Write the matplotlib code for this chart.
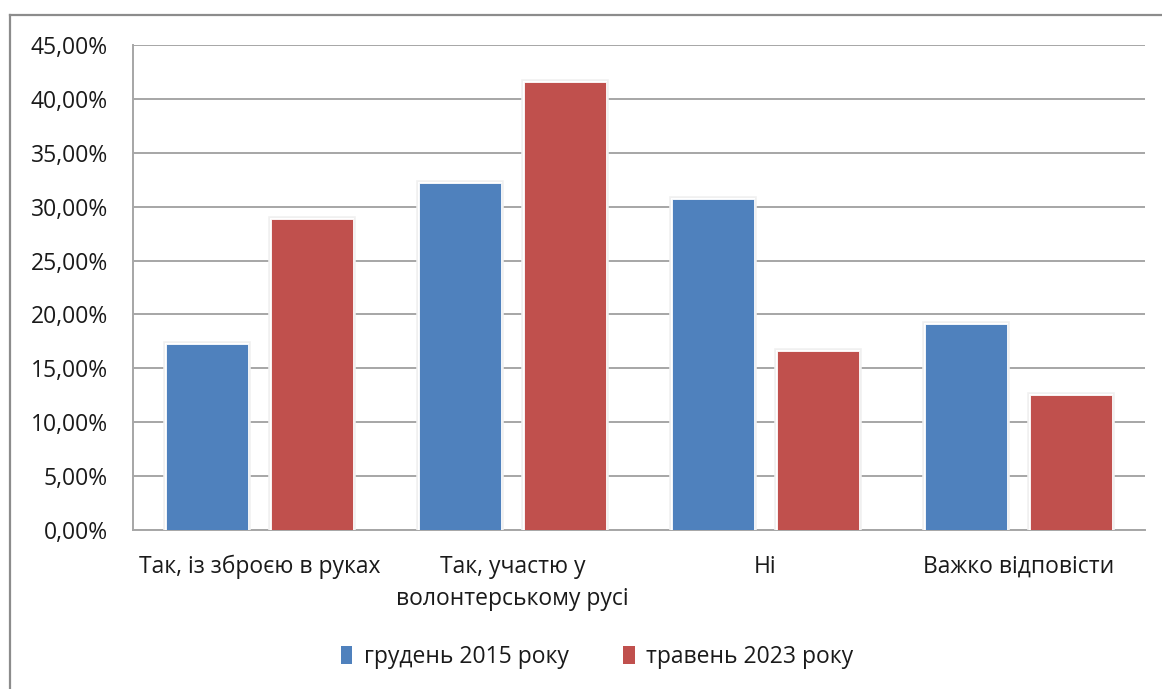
import matplotlib
matplotlib.use("Agg")
import matplotlib.pyplot as plt
import matplotlib.patheffects as pe
from matplotlib.patches import Patch
from matplotlib.lines import Line2D
from matplotlib.ticker import FuncFormatter, MultipleLocator
import numpy as np

categories = ["Так, із зброєю в руках", "Так, участю у\nволонтерському русі", "Ні", "Важко відповісти"]
series_names = ["грудень 2015 року", "травень 2023 року"]
dec_2015 = [17.3, 32.2, 30.7, 19.1]
may_2023 = [28.9, 41.6, 16.6, 12.5]
colors = ["#4F81BD", "#C0504D"]

plt.rcParams['font.family'] = ['Open Sans', 'DejaVu Sans']

W, H = 1162, 689
fig = plt.figure(figsize=(W / 100, H / 100), dpi=100)
fig.patch.set_facecolor("white")

# outer chart frame (top and left edges visible)
fig.add_artist(Line2D([9.5 / W, 9.5 / W], [0, 1 - 15 / H], color="#8c8c8c", lw=1.6, transform=fig.transFigure))
fig.add_artist(Line2D([9.5 / W, 1], [1 - 15 / H, 1 - 15 / H], color="#8c8c8c", lw=1.6, transform=fig.transFigure))

left, right, top, bottom = 133, 1145, 45, 530
ax = fig.add_axes([left / W, 1 - bottom / H, (right - left) / W, (bottom - top) / H])

x = np.arange(len(categories))
bw = 0.328
off = 0.2075
shadow = [pe.Stroke(linewidth=4, foreground="#f0f0f0"), pe.Stroke(linewidth=1.5, foreground="white"), pe.Normal()]
for vals, dx, c, name in [(dec_2015, -off, colors[0], series_names[0]), (may_2023, off, colors[1], series_names[1])]:
    bars = ax.bar(x + dx, vals, width=bw, color=c, edgecolor="white", linewidth=0.6, zorder=3, label=name)
    for b in bars:
        b.set_path_effects(shadow)

fs = 16.5
ax.set_xlim(-0.5, len(categories) - 0.5)
ax.set_ylim(0, 45)
ax.yaxis.set_major_locator(MultipleLocator(5))
ax.yaxis.set_major_formatter(FuncFormatter(lambda v, p: f"{v:.2f}%".replace(".", ",")))
ax.grid(axis="y", color="#a6a6a6", lw=1.4, zorder=0)
ax.set_axisbelow(True)
for s in ["top", "right"]:
    ax.spines[s].set_visible(False)
for s in ["left", "bottom"]:
    ax.spines[s].set_color("#a6a6a6")
    ax.spines[s].set_linewidth(1.4)
ax.tick_params(axis="y", length=0, pad=18, labelsize=fs, labelcolor="#1a1a1a")
ax.tick_params(axis="x", length=0, pad=18, labelsize=fs, labelcolor="#1a1a1a")
ax.set_xticks(x)
ax.set_xticklabels(categories, linespacing=1.45, va="top")

handles = [Patch(facecolor=colors[0], edgecolor="none"), Patch(facecolor=colors[1], edgecolor="none")]
fig.legend(handles, series_names, loc="center", bbox_to_anchor=(597 / W, 1 - 657 / H), ncol=2, frameon=False,
           fontsize=fs, handlelength=0.5, handleheight=0.8, handletextpad=0.5, columnspacing=2.4,
           labelcolor="#1a1a1a")

fig.savefig("out.png", dpi=100, facecolor="white")
